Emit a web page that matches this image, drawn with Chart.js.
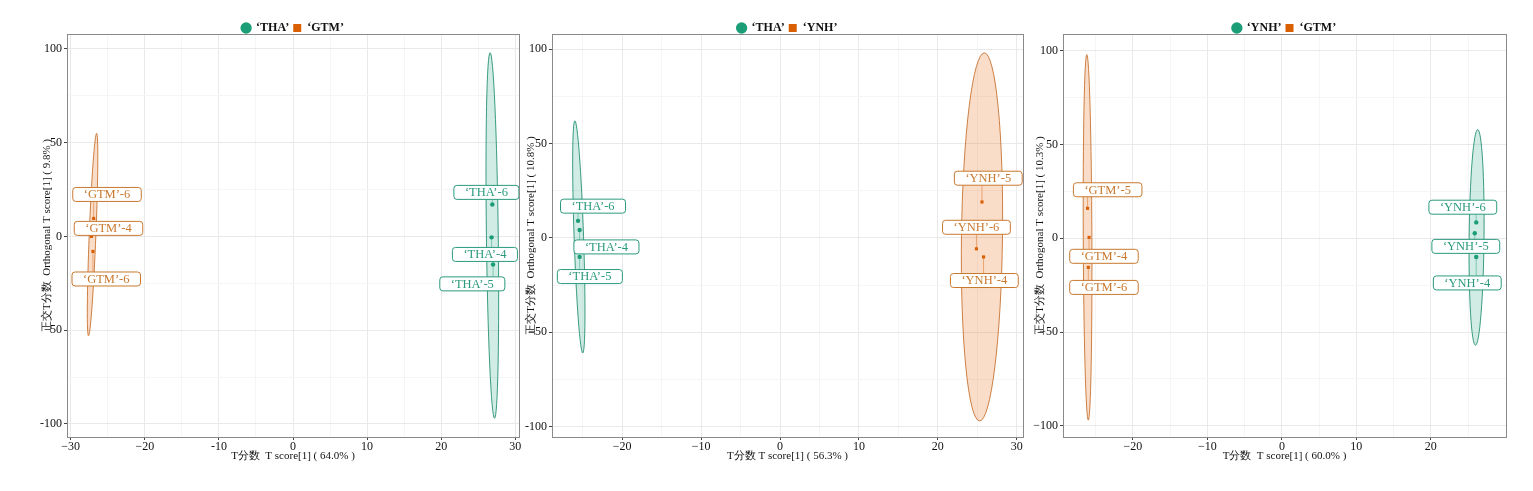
<!DOCTYPE html>
<html>
<head>
<meta charset="utf-8">
<script src="https://cdn.jsdelivr.net/npm/chart.js@4.4.1/dist/chart.umd.min.js"></script>
<style>
body { margin: 0; background: #fff; }
#wrap { position: relative; width: 1533px; height: 491px; overflow: hidden; }
canvas { position: absolute; top: 0; }
</style>
</head>
<body>
<div id="wrap">
  <canvas id="c1" width="524" height="491" style="left:0px"></canvas>
  <canvas id="c2" width="506" height="491" style="left:524px"></canvas>
  <canvas id="c3" width="503" height="491" style="left:1030px"></canvas>
</div>
<script>
// ---- panel 1 : THA vs GTM ----
const p1Names = ['‘THA’', '‘GTM’'];
const p1ThaX = [26.9, 26.8, 27.0];
const p1ThaY = [17.0, -0.5, -15.0];
const p1GtmX = [-26.9, -27.2, -27.0];
const p1GtmY = [9.6, 0.0, -8.0];
const p1ThaLabels = ['‘THA’-6', '‘THA’-4', '‘THA’-5'];
const p1ThaLabelX = [26.1, 25.9, 24.2];
const p1ThaLabelY = [23.5, -9.6, -25.3];
const p1GtmLabels = ['‘GTM’-6', '‘GTM’-4', '‘GTM’-6'];
const p1GtmLabelX = [-25.1, -24.9, -25.2];
const p1GtmLabelY = [22.4, 4.3, -22.7];
// ellipse = top x, top y, bottom x, bottom y, half width
const p1ThaEllipse = [26.6, 98, 27.2, -97, 0.8];
const p1GtmEllipse = [-26.5, 55, -27.6, -53, 0.45];
const p1XTicks = [-30, -20, -10, 0, 10, 20, 30];
const p1XTickLabels = ['−30', '−20', '-10', '0', '10', '20', '30'];
const p1YTickLabels = ['-100', '50', '0', '50', '100'];
const p1XTitle = 'T分数  T score[1] ( 64.0% )';
const p1YTitle = '正交T分数  Orthogonal T score[1] ( 9.8% )';

// ---- panel 2 : THA vs YNH ----
const p2Names = ['‘THA’', '‘YNH’'];
const p2ThaX = [-25.6, -25.4, -25.4];
const p2ThaY = [9.0, 4.2, -10.1];
const p2YnhX = [25.6, 24.9, 25.8];
const p2YnhY = [19.0, -5.8, -10.1];
const p2ThaLabels = ['‘THA’-6', '‘THA’-4', '‘THA’-5'];
const p2ThaLabelX = [-23.7, -22.0, -24.1];
const p2ThaLabelY = [16.8, -4.8, -20.5];
const p2YnhLabels = ['‘YNH’-5', '‘YNH’-6', '‘YNH’-4'];
const p2YnhLabelX = [26.4, 24.9, 25.9];
const p2YnhLabelY = [31.6, 5.6, -22.6];
const p2ThaEllipse = [-26.0, 62, -25.0, -61, 0.6];
const p2YnhEllipse = [25.9, 98, 25.3, -97, 2.6];
const p2XTicks = [-20, -10, 0, 10, 20, 30];
const p2XTickLabels = ['−20', '−10', '0', '10', '20', '30'];
const p2YTickLabels = ['-100', '−50', '0', '50', '100'];
const p2XTitle = 'T分数 T score[1] ( 56.3% )';
const p2YTitle = '正交T分数  Orthogonal T score[1] ( 10.8% )';

// ---- panel 3 : YNH vs GTM ----
const p3Names = ['‘YNH’', '‘GTM’'];
const p3YnhX = [26.1, 25.9, 26.1];
const p3YnhY = [8.5, 2.7, -10.0];
const p3GtmX = [-26.1, -25.9, -26.0];
const p3GtmY = [16.0, 0.5, -15.5];
const p3YnhLabels = ['‘YNH’-6', '‘YNH’-5', '‘YNH’-4'];
const p3YnhLabelX = [24.3, 24.7, 24.9];
const p3YnhLabelY = [16.6, -4.3, -23.8];
const p3GtmLabels = ['‘GTM’-5', '‘GTM’-4', '‘GTM’-6'];
const p3GtmLabelX = [-23.4, -23.9, -23.9];
const p3GtmLabelY = [25.9, -9.6, -26.2];
const p3YnhEllipse = [26.3, 58, 26.0, -57, 1.0];
const p3GtmEllipse = [-26.2, 98, -26.0, -97, 0.58];
const p3XTicks = [-20, -10, 0, 10, 20];
const p3XTickLabels = ['−20', '−10', '0', '10', '20'];
const p3YTickLabels = ['−100', '−50', '0', '50', '100'];
const p3XTitle = 'T分数  T score[1] ( 60.0% )';
const p3YTitle = '正交T分数  Orthogonal T score[1] ( 10.3% )';

// shared
const yTicks = [-100, -50, 0, 50, 100];
const xMinorTicks = [-25, -15, -5, 5, 15, 25];
const yMinorTicks = [-75, -25, 25, 75];

const GREEN = '#1b9e77', ORANGE = '#d95f02';
const SERIF = "'Liberation Serif', 'Times New Roman', serif";

const toPts = (xs, ys) => xs.map((v, i) => ({ x: v, y: ys[i] }));

// draws the confidence ellipses, the repel-style labels and the panel frame
const scorePlot = {
  id: 'scorePlot',
  beforeDatasetsDraw(chart, args, opts) {
    const { ctx, chartArea: a, scales: { x, y } } = chart;
    ctx.save();
    ctx.beginPath(); ctx.rect(a.left, a.top, a.width, a.height); ctx.clip();
    opts.ellipses.forEach(e => {
      const tx = x.getPixelForValue(e.p[0]), ty = y.getPixelForValue(e.p[1]);
      const bx = x.getPixelForValue(e.p[2]), by = y.getPixelForValue(e.p[3]);
      const rw = Math.abs(x.getPixelForValue(e.p[4]) - x.getPixelForValue(0));
      const len = Math.hypot(bx - tx, by - ty) / 2;
      const rot = Math.atan2(-(bx - tx), by - ty);
      ctx.beginPath();
      ctx.ellipse((tx + bx) / 2, (ty + by) / 2, rw, len, rot, 0, Math.PI * 2);
      ctx.fillStyle = e.fill; ctx.fill();
      ctx.lineWidth = 1; ctx.strokeStyle = e.stroke; ctx.stroke();
    });
    ctx.restore();
  },
  afterDatasetsDraw(chart, args, opts) {
    const { ctx, chartArea: a, scales: { x, y } } = chart;
    ctx.save();
    ctx.font = '12.5px ' + SERIF;
    ctx.textAlign = 'center'; ctx.textBaseline = 'middle';
    opts.labels.forEach(l => {
      const lx = x.getPixelForValue(l.x), ly = y.getPixelForValue(l.y);
      const px = x.getPixelForValue(l.px), py = y.getPixelForValue(l.py);
      const w = ctx.measureText(l.text).width + 22, h = 14;
      const x0 = lx - w / 2, y0 = ly - h / 2;
      // connector from the point to the nearest edge of the box
      const ex = Math.min(Math.max(px, x0), x0 + w), ey = Math.min(Math.max(py, y0), y0 + h);
      if (Math.hypot(ex - px, ey - py) > 4) {
        ctx.beginPath(); ctx.moveTo(px, py); ctx.lineTo(ex, ey);
        ctx.strokeStyle = l.line; ctx.lineWidth = 1; ctx.stroke();
      }
      ctx.beginPath(); ctx.roundRect(x0, y0, w, h, 3);
      ctx.fillStyle = '#fff'; ctx.fill();
      ctx.strokeStyle = l.color; ctx.lineWidth = 1; ctx.stroke();
      ctx.fillStyle = l.color;
      ctx.fillText(l.text, lx, ly + 0.5);
    });
    ctx.strokeStyle = '#8a8a8a'; ctx.lineWidth = 1;
    ctx.strokeRect(Math.round(a.left) + 0.5, Math.round(a.top) + 0.5, Math.round(a.width), Math.round(a.height));
    ctx.restore();
  }
};

function groupLabels(texts, lx, ly, px, py, color, line) {
  return texts.map((t, i) => ({ text: t, x: lx[i], y: ly[i], px: px[i], py: py[i], color: color, line: line }));
}

function makePanel(id, p) {
  const xAll = p.xTicks.concat(xMinorTicks);
  const yAll = yTicks.concat(yMinorTicks);
  new Chart(document.getElementById(id), {
    type: 'scatter',
    plugins: [scorePlot],
    data: {
      datasets: [
        { label: p.names[0], data: p.green, pointStyle: 'circle', pointRadius: 2.2,
          backgroundColor: GREEN, borderColor: GREEN, borderWidth: 0 },
        { label: p.names[1], data: p.orange, pointStyle: 'rect', pointRadius: 2.2,
          backgroundColor: ORANGE, borderColor: ORANGE, borderWidth: 0 }
      ]
    },
    options: {
      responsive: false,
      animation: false,
      layout: { padding: { top: 18, left: 0, right: p.padRight, bottom: 28 } },
      plugins: {
        tooltip: { enabled: false },
        legend: {
          position: 'top', fullSize: false, maxHeight: 16,
          labels: { usePointStyle: true, boxWidth: 8, boxHeight: 8, padding: 4, color: '#111',
                    font: { family: SERIF, size: 12, weight: 'bold' } }
        },
        scorePlot: { ellipses: p.ellipses, labels: p.labels }
      },
      scales: {
        x: {
          type: 'linear', min: p.xRange[0], max: p.xRange[1],
          afterBuildTicks: s => { s.ticks = xAll.map(v => ({ value: v })); },
          afterFit: s => { s.height = 26; },
          border: { display: false },
          grid: {
            color: c => p.xTicks.includes(c.tick.value) ? '#e9e9e9' : '#f5f5f5',
            tickColor: c => p.xTicks.includes(c.tick.value) ? '#444' : 'rgba(0,0,0,0)',
            tickLength: 3
          },
          ticks: {
            autoSkip: false, maxRotation: 0, padding: 0, color: '#111',
            font: { family: SERIF, size: 12 },
            callback: v => { const i = p.xTicks.indexOf(v); return i < 0 ? '' : p.xTickLabels[i]; }
          },
          title: { display: true, text: p.xTitle, color: '#111', padding: { top: 2, bottom: 0 },
                   font: { family: SERIF, size: 11 } }
        },
        y: {
          type: 'linear', min: p.yRange[0], max: p.yRange[1],
          afterBuildTicks: s => { s.ticks = yAll.map(v => ({ value: v })); },
          afterFit: s => { s.width = p.yAxisW; },
          border: { display: false },
          grid: {
            color: c => yTicks.includes(c.tick.value) ? '#e9e9e9' : '#f5f5f5',
            tickColor: c => yTicks.includes(c.tick.value) ? '#444' : 'rgba(0,0,0,0)',
            tickLength: 3
          },
          ticks: {
            autoSkip: false, padding: 2, color: '#111',
            font: { family: SERIF, size: 12 },
            callback: v => { const i = yTicks.indexOf(v); return i < 0 ? '' : p.yTickLabels[i]; }
          },
          title: { display: true, text: p.yTitle, color: '#111', padding: { top: p.yTitlePad, bottom: 0 },
                   font: { family: SERIF, size: 11 } }
        }
      }
    }
  });
}

const gFill = 'rgba(27,158,119,0.2)', gLine = 'rgba(27,140,108,0.85)', gText = '#2a9a7d', gConn = 'rgba(27,158,119,0.45)';
const oFill = 'rgba(232,120,40,0.25)', oLine = 'rgba(200,115,50,0.9)', oText = '#c8782e', oConn = 'rgba(217,95,2,0.45)';

makePanel('c1', {
  names: p1Names, green: toPts(p1ThaX, p1ThaY), orange: toPts(p1GtmX, p1GtmY),
  xRange: [-30.5, 30.5], yRange: [-107, 108],
  xTicks: p1XTicks, xTickLabels: p1XTickLabels, yTickLabels: p1YTickLabels,
  xTitle: p1XTitle, yTitle: p1YTitle,
  ellipses: [{ p: p1ThaEllipse, fill: gFill, stroke: gLine }, { p: p1GtmEllipse, fill: oFill, stroke: oLine }],
  labels: groupLabels(p1ThaLabels, p1ThaLabelX, p1ThaLabelY, p1ThaX, p1ThaY, gText, gConn)
    .concat(groupLabels(p1GtmLabels, p1GtmLabelX, p1GtmLabelY, p1GtmX, p1GtmY, oText, oConn)),
  padRight: 5, yAxisW: 67, yTitlePad: 41
});

makePanel('c2', {
  names: p2Names, green: toPts(p2ThaX, p2ThaY), orange: toPts(p2YnhX, p2YnhY),
  xRange: [-28.9, 30.8], yRange: [-105.5, 108],
  xTicks: p2XTicks, xTickLabels: p2XTickLabels, yTickLabels: p2YTickLabels,
  xTitle: p2XTitle, yTitle: p2YTitle,
  ellipses: [{ p: p2ThaEllipse, fill: gFill, stroke: gLine }, { p: p2YnhEllipse, fill: oFill, stroke: oLine }],
  labels: groupLabels(p2ThaLabels, p2ThaLabelX, p2ThaLabelY, p2ThaX, p2ThaY, gText, gConn)
    .concat(groupLabels(p2YnhLabels, p2YnhLabelX, p2YnhLabelY, p2YnhX, p2YnhY, oText, oConn)),
  padRight: 7, yAxisW: 28, yTitlePad: 1
});

makePanel('c3', {
  names: p3Names, green: toPts(p3YnhX, p3YnhY), orange: toPts(p3GtmX, p3GtmY),
  xRange: [-29.4, 30.1], yRange: [-106, 109],
  xTicks: p3XTicks, xTickLabels: p3XTickLabels, yTickLabels: p3YTickLabels,
  xTitle: p3XTitle, yTitle: p3YTitle,
  ellipses: [{ p: p3YnhEllipse, fill: gFill, stroke: gLine }, { p: p3GtmEllipse, fill: oFill, stroke: oLine }],
  labels: groupLabels(p3YnhLabels, p3YnhLabelX, p3YnhLabelY, p3YnhX, p3YnhY, gText, gConn)
    .concat(groupLabels(p3GtmLabels, p3GtmLabelX, p3GtmLabelY, p3GtmX, p3GtmY, oText, oConn)),
  padRight: 27, yAxisW: 33, yTitlePad: 4
});
</script>
</body>
</html>
